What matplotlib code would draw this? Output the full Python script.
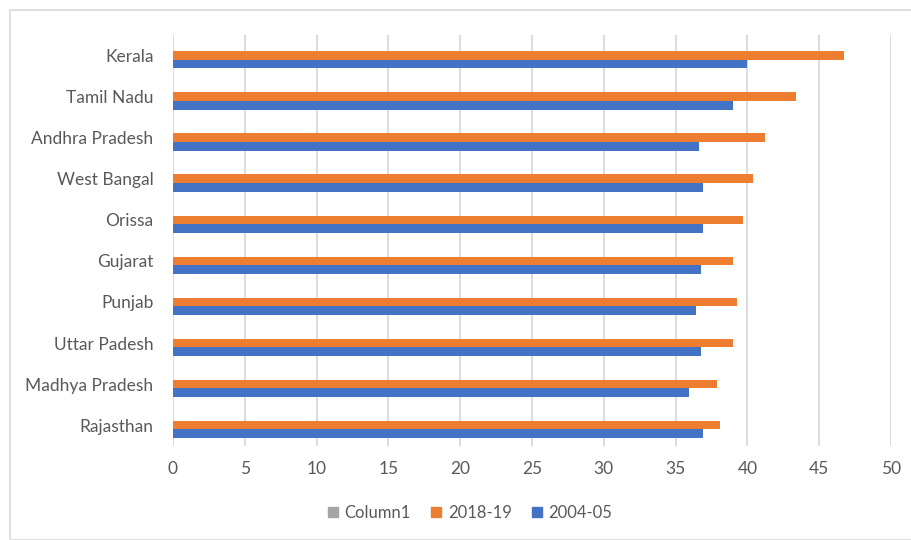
import matplotlib.pyplot as plt
import numpy as np
from matplotlib.patches import Rectangle

# datos
estados = ["Rajasthan", "Madhya Pradesh", "Uttar Padesh", "Punjab", "Gujarat",
           "Orissa", "West Bangal", "Andhra Pradesh", "Tamil Nadu", "Kerala"]
v2018 = [38.1, 37.9, 39.0, 39.25, 39.0, 39.7, 40.4, 41.2, 43.4, 46.7]
v2004 = [36.9, 35.9, 36.8, 36.4, 36.8, 36.9, 36.9, 36.65, 39.0, 40.0]
col1 = [0] * len(estados)

gris = "#A5A5A5"
naranja = "#ED7D31"
azul = "#4472C4"
texto = "#595959"

plt.rcParams['font.family'] = ['Lato', 'DejaVu Sans']

fig = plt.figure(figsize=(9.11, 5.40), dpi=100)
ax = fig.add_axes([173/911, 1-445.7/540, (891-173)/911, (445.7-35)/540])

y = np.arange(len(estados))
h = 0.21
ax.barh(y + h, col1, height=h, color=gris, label="Column1")
ax.barh(y, v2018, height=h, color=naranja, label="2018-19")
ax.barh(y - h, v2004, height=h, color=azul, label="2004-05")

ax.set_xlim(0, 50)
ax.set_ylim(-0.5, len(estados) - 0.5)
ax.set_xticks(range(0, 51, 5))
ax.set_yticks(y)
ax.set_yticklabels(estados)
ax.tick_params(length=0, labelsize=12.5, colors=texto)
ax.tick_params(axis='y', pad=14)
ax.tick_params(axis='x', pad=11)
ax.grid(axis='x', color="#D9D9D9", linewidth=1.3)
ax.set_axisbelow(True)
for s in ax.spines.values():
    s.set_visible(False)

# borde del area del grafico
fig.patches.append(Rectangle((10/911, 0), 1, 1 - 10/540, transform=fig.transFigure,
                             fill=False, edgecolor="#D9D9D9", linewidth=1.2))

handles = [Rectangle((0, 0), 1, 1, color=c) for c in (gris, naranja, azul)]
fig.legend(handles, ["Column1", "2018-19", "2004-05"], loc="center",
           bbox_to_anchor=(0.516, 1 - 513/540), ncol=3, frameon=False,
           handlelength=0.6, handleheight=0.6, handletextpad=0.4,
           columnspacing=1.2, labelcolor=texto, fontsize=12)

fig.savefig("out.png", dpi=100)
